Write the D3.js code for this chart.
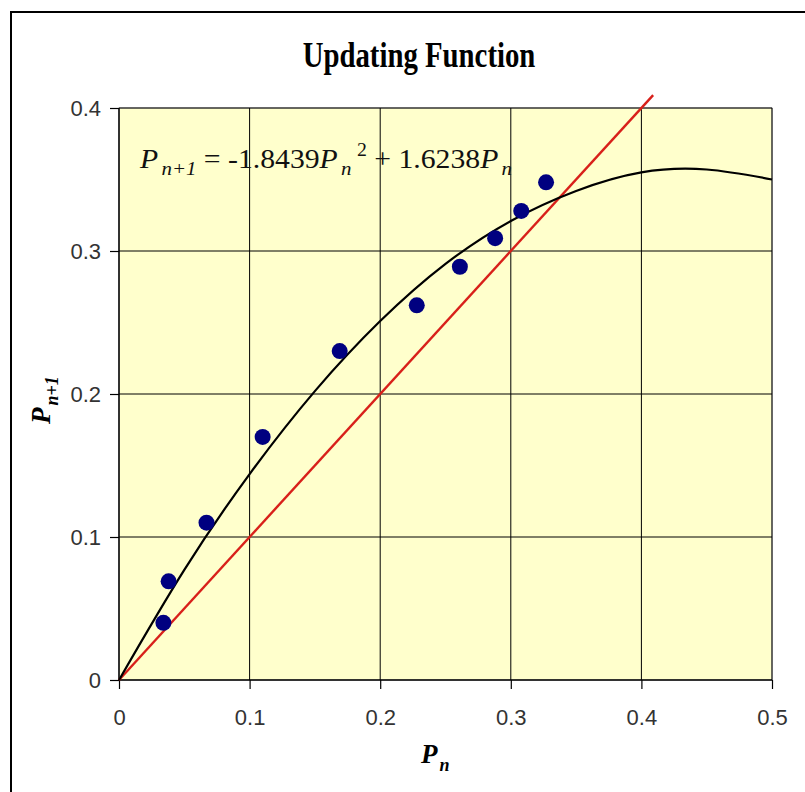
<!DOCTYPE html>
<html><head><meta charset="utf-8">
<script src="https://cdn.jsdelivr.net/npm/d3@7"></script>
<style>body{margin:0;background:#fff}svg{display:block}</style>
</head><body>
<script>
// Data
const pn   = [0.034, 0.038, 0.067, 0.110, 0.169, 0.228, 0.261, 0.288, 0.308, 0.327];
const pn1  = [0.040, 0.069, 0.110, 0.170, 0.230, 0.262, 0.289, 0.309, 0.328, 0.348];
// Polynomial trendline
const trendX = [0, 0.05, 0.1, 0.15, 0.2, 0.25, 0.3, 0.35, 0.4, 0.45, 0.5];
const trendY = [0, 0.077, 0.144, 0.202, 0.251, 0.291, 0.321, 0.342, 0.355, 0.357, 0.350];
// Identity line endpoints
const idX = [0, 0.409];
const idY = [0, 0.409];
const xTicks = [0, 0.1, 0.2, 0.3, 0.4, 0.5];
const yTicks = [0, 0.1, 0.2, 0.3, 0.4];
const xTickLabels = ["0", "0.1", "0.2", "0.3", "0.4", "0.5"];
const yTickLabels = ["0", "0.1", "0.2", "0.3", "0.4"];
const title = "Updating Function";

const W = 805, H = 792;
const L = 119, R = 772, T = 108, B = 680;
const SERIF = "Liberation Serif, Times New Roman, serif";

const svg = d3.select("body").append("svg").attr("width", W).attr("height", H);
svg.append("rect").attr("width", W).attr("height", H).attr("fill", "#fff");

// outer chart border
svg.append("path").attr("d", `M11,${H+5} V12 H${W+5}`).attr("fill", "none")
  .attr("stroke", "#000").attr("stroke-width", 2);

const x = d3.scaleLinear().domain([0, 0.5]).range([L, R]);
const y = d3.scaleLinear().domain([0, 0.4]).range([B, T]);

// plot area
svg.append("rect").attr("x", L).attr("y", T).attr("width", R - L).attr("height", B - T)
  .attr("fill", "#FFFFCC").attr("stroke", "#999").attr("stroke-width", 1);

// gridlines
const g = svg.append("g");
g.selectAll("line.vx").data(xTicks.slice(1)).join("line")
  .attr("x1", d => x(d)).attr("x2", d => x(d)).attr("y1", T).attr("y2", B)
  .attr("stroke", "#000").attr("stroke-width", 1);
g.selectAll("line.hy").data(yTicks.slice(1)).join("line")
  .attr("y1", d => y(d)).attr("y2", d => y(d)).attr("x1", L).attr("x2", R)
  .attr("stroke", "#000").attr("stroke-width", 1);

// axes
const xAxis = d3.axisBottom(x).tickValues(xTicks).tickSize(9).tickPadding(20)
  .tickFormat((d, i) => xTickLabels[i]);
const yAxis = d3.axisLeft(y).tickValues(yTicks).tickSize(9).tickPadding(9)
  .tickFormat((d, i) => yTickLabels[i]);
const gx = svg.append("g").attr("transform", `translate(0,${B})`).call(xAxis);
const gy = svg.append("g").attr("transform", `translate(${L},0)`).call(yAxis);
[gx, gy].forEach(a => {
  a.select(".domain").attr("stroke", "#000").attr("stroke-width", 1.5);
  a.selectAll(".tick line").attr("stroke", "#000").attr("stroke-width", 1.2);
  a.selectAll(".tick text").attr("font-family", "Liberation Sans, Arial, sans-serif")
    .attr("font-size", 22).attr("fill", "#333");
});
gx.select(".domain").attr("d", `M${L},0H${R}`);
gy.select(".domain").attr("d", `M0,${B}V${T}`);

// identity line
svg.append("path").datum(idX.map((d, i) => [d, idY[i]]))
  .attr("d", d3.line().x(d => x(d[0])).y(d => y(d[1])))
  .attr("fill", "none").attr("stroke", "#D8201A").attr("stroke-width", 2.4);

// trendline
svg.append("path").datum(trendX.map((d, i) => [d, trendY[i]]))
  .attr("d", d3.line().curve(d3.curveNatural).x(d => x(d[0])).y(d => y(d[1])))
  .attr("fill", "none").attr("stroke", "#000").attr("stroke-width", 2.2);

// points
svg.append("g").selectAll("circle").data(pn.map((d, i) => [d, pn1[i]])).join("circle")
  .attr("cx", d => x(d[0])).attr("cy", d => y(d[1])).attr("r", 8)
  .attr("fill", "#000080");

// title
svg.append("text").attr("transform", "translate(419,67) scale(0.9,1.1)").attr("text-anchor", "middle")
  .attr("font-family", SERIF).attr("font-weight", "bold")
  .attr("font-size", 32).attr("fill", "#000").text(title);

// equation
const eq = svg.append("text").attr("transform", "translate(140,168) scale(1.1,1)")
  .attr("font-family", SERIF).attr("font-size", 27).attr("fill", "#111");
eq.append("tspan").attr("font-style", "italic").text("P");
eq.append("tspan").attr("font-style", "italic").attr("font-size", 19).attr("dy", 7).attr("dx", 3).text("n+1");
eq.append("tspan").attr("dy", -7).text(" = -1.8439");
eq.append("tspan").attr("font-style", "italic").text("P");
eq.append("tspan").attr("font-style", "italic").attr("font-size", 19).attr("dy", 7).attr("dx", 3).text("n");
eq.append("tspan").attr("font-size", 18).attr("dy", -19).attr("dx", 5).text("2");
eq.append("tspan").attr("dy", 12).text(" + 1.6238");
eq.append("tspan").attr("font-style", "italic").text("P");
eq.append("tspan").attr("font-style", "italic").attr("font-size", 19).attr("dy", 7).attr("dx", 3).text("n");

// axis titles
const xt = svg.append("text").attr("x", 421).attr("y", 763)
  .attr("font-family", SERIF).attr("font-weight", "bold")
  .attr("font-style", "italic").attr("font-size", 27);
xt.append("tspan").text("P");
xt.append("tspan").attr("font-size", 18).attr("dy", 8).attr("dx", 2).text("n");

const yt = svg.append("text").attr("transform", "translate(50,424) rotate(-90)")
  .attr("font-family", SERIF).attr("font-weight", "bold")
  .attr("font-style", "italic").attr("font-size", 27);
yt.append("tspan").text("P");
yt.append("tspan").attr("font-size", 18).attr("dy", 8).attr("dx", 2).text("n+1");
</script>
</body></html>
